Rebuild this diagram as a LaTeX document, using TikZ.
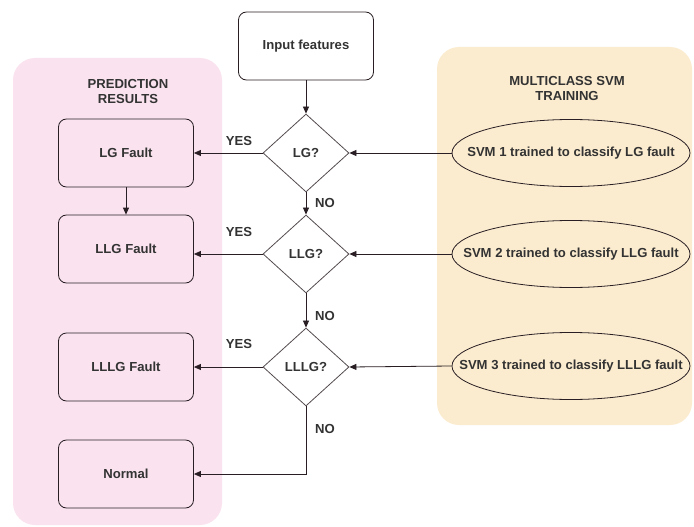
\documentclass[tikz,border=0pt]{standalone}
\usepackage{fontspec}
\setmainfont{Liberation Sans}
\usetikzlibrary{shapes.geometric,arrows.meta}
\definecolor{pinkbg}{RGB}{250,227,239}
\definecolor{orangebg}{RGB}{252,236,207}
\definecolor{txt}{RGB}{51,51,51}
\definecolor{edge}{RGB}{40,30,35}
\begin{document}
\begin{tikzpicture}[x=1pt,y=-1pt,
  font=\fontsize{13.1}{15}\selectfont\bfseries, text=txt,
  panel/.style={rounded corners=22pt, draw=none},
  rbox/.style={draw=edge, line width=0.8pt, rounded corners=8pt, minimum width=135pt, minimum height=68pt, inner sep=0pt},
  dec/.style={draw=edge!80, line width=0.8pt, shape=diamond, inner sep=0pt, minimum width=86pt, minimum height=78pt},
  svm/.style={draw=edge, line width=0.8pt, shape=ellipse, inner sep=0pt, minimum width=238pt, minimum height=67pt},
  lbl/.style={inner sep=1pt},
  arr/.style={draw=edge, line width=0.8pt, -{Triangle[length=7pt,width=6pt]}}
]
\useasboundingbox (0,0) rectangle (694,527);
\fill[white] (0,0) rectangle (694,527);
% panels
\fill[pinkbg, panel] (13,58) rectangle (222,525);
\fill[orangebg, panel] (437,47) rectangle (692,425);
\node[align=center] (ptitle) at (128,91) {PREDICTION\\RESULTS};
\node[align=center] (otitle) at (567,88) {MULTICLASS SVM\\TRAINING};
% result boxes
\node[rbox] (lg) at (126,153) {LG Fault};
\node[rbox] (llg) at (126,249) {LLG Fault};
\node[rbox] (lllg) at (126,367) {LLLG Fault};
\node[rbox] (nor) at (126,474) {Normal};
% input
\node[rbox, fill=white] (inp) at (306,46) {Input features};
% decisions
\node[dec] (d1) at (306,153) {LG?};
\node[dec] (d2) at (306,254) {LLG?};
\node[dec] (d3) at (306,367) {LLLG?};
% svm ellipses
\node[svm] (s1) at (571,153) {\makebox[0pt]{SVM 1 trained to classify LG fault}};
\node[svm] (s2) at (571,254) {\makebox[0pt]{SVM 2 trained to classify LLG fault}};
\node[svm] (s3) at (571,366) {\makebox[0pt]{SVM 3 trained to classify LLLG fault}};
% connectors
\draw[arr] (inp) -- (d1);
\draw[arr] (d1) -- (d2);
\draw[arr] (d2) -- (d3);
\draw[arr] (lg) -- (llg);
\draw[arr] (d1.west) -- (lg.east |- d1.west);
\draw[arr] (d2.west) -- (llg.east |- d2.west);
\draw[arr] (d3.west) -- (lllg.east |- d3.west);
\coordinate (c3) at (d3.south |- nor.east);
\draw[arr] (d3.south) -- (c3) -- (nor.east);
\draw[arr] (s1.west) -- (d1.east);
\draw[arr] (s2.west) -- (d2.east);
\draw[arr] (s3.west) -- (d3.east);
% labels
\node[lbl] (y1) at (239,141) {YES};
\node[lbl] (y2) at (239,232) {YES};
\node[lbl] (y3) at (239,344) {YES};
\node[lbl] (n1) at (325,203) {NO};
\node[lbl] (n2) at (325,316) {NO};
\node[lbl] (n3) at (325,429) {NO};
\end{tikzpicture}
\end{document}
